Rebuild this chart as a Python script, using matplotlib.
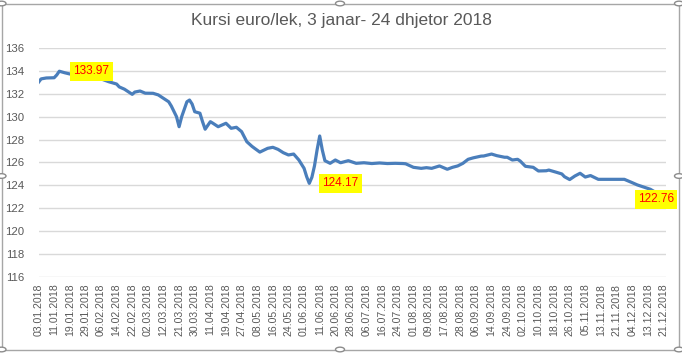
import matplotlib.pyplot as plt
from matplotlib.patches import Rectangle, Circle

title = 'Kursi euro/lek, 3 janar- 24 dhjetor 2018'

tick_dates = [
    '03.01.2018', '11.01.2018', '19.01.2018', '29.01.2018', '06.02.2018',
    '14.02.2018', '22.02.2018', '02.03.2018', '12.03.2018', '21.03.2018',
    '30.03.2018', '11.04.2018', '19.04.2018', '27.04.2018', '08.05.2018',
    '16.05.2018', '24.05.2018', '01.06.2018', '11.06.2018', '20.06.2018',
    '28.06.2018', '06.07.2018', '16.07.2018', '24.07.2018', '01.08.2018',
    '09.08.2018', '17.08.2018', '28.08.2018', '06.09.2018', '14.09.2018',
    '24.09.2018', '02.10.2018', '10.10.2018', '18.10.2018', '26.10.2018',
    '05.11.2018', '13.11.2018', '21.11.2018', '04.12.2018', '13.12.2018',
    '21.12.2018',
]
tick_step = 6  # one label every 6 trading days

# trading-day number (0 = 03.01.2018) and the euro/lek rate on that day
day_index = [
    0, 1, 3, 6, 7, 8, 10, 12, 15, 18, 21, 24, 27, 30, 31, 33, 36, 37, 39, 41,
    44, 46, 48, 50, 51, 53, 54, 55, 57, 58, 59, 60, 62, 63, 64, 66, 67, 69,
    72, 74, 76, 78, 80, 82, 83, 85, 88, 90, 92, 94, 96, 98, 100, 102, 103,
    104, 105, 106, 107, 108, 109, 110, 112, 114, 116, 119, 122, 125, 128,
    131, 134, 137, 140, 141, 144, 147, 149, 151, 154, 157, 159, 161, 163,
    165, 167, 170, 171, 174, 176, 179, 180, 182, 184, 185, 187, 190, 192,
    195, 196, 199, 201, 202, 204, 206, 208, 210, 212, 215, 220, 225, 228,
    230, 235, 238, 241,
]
rate = [
    133.0, 133.3, 133.38, 133.4, 133.64, 133.97, 133.84, 133.73, 133.65,
    133.55, 133.45, 133.3, 133.05, 132.85, 132.6, 132.4, 131.95, 132.15,
    132.24, 132.05, 132.04, 131.9, 131.6, 131.3, 130.93, 130.0, 129.12,
    130.0, 131.3, 131.45, 131.1, 130.43, 130.3, 129.56, 128.9, 129.56,
    129.42, 129.12, 129.42, 128.98, 129.07, 128.69, 127.81, 127.4, 127.23,
    126.9, 127.23, 127.32, 127.14, 126.85, 126.65, 126.73, 126.21, 125.48,
    124.75, 124.17, 124.7, 125.7, 127.1, 128.31, 127.08, 126.15, 125.92,
    126.21, 125.97, 126.15, 125.92, 125.97, 125.9, 125.95, 125.9, 125.92,
    125.9, 125.88, 125.57, 125.48, 125.54, 125.48, 125.69, 125.4, 125.57,
    125.69, 125.92, 126.27, 126.4, 126.55, 126.56, 126.73, 126.59, 126.45,
    126.45, 126.21, 126.27, 126.12, 125.66, 125.57, 125.25, 125.27, 125.33,
    125.13, 124.99, 124.75, 124.5, 124.81, 125.05, 124.72, 124.85, 124.52,
    124.52, 124.52, 124.23, 124.03, 123.65, 123.25, 122.76,
]

# values that carry a data label in the chart
labelled = [133.97, 124.17, 122.76]

gray = '#595959'
font = ['Liberation Sans', 'DejaVu Sans']

fig = plt.figure(figsize=(6.82, 3.53), dpi=100)
W, H = 682, 353

# chart border with selection handles
fig.patches.append(Rectangle((1.5 / W, 3.5 / H), 677.5 / W, 346 / H,
                             transform=fig.transFigure, fill=False,
                             ec='#a6a6a6', lw=1.0))
for hx, hy in [(1.5, 3.5), (340, 3.5), (679, 3.5), (1.5, 176), (679, 176),
               (1.5, 349.5), (340, 349.5), (679, 349.5)]:
    fig.patches.append(Circle((hx / W, 1 - hy / H), 4.5 / W,
                              transform=fig.transFigure, fc='white',
                              ec='#8c8c8c', lw=1.0, zorder=5))

ax = fig.add_axes([38.5 / W, 1 - 276.8 / H, 627.5 / W, (276.8 - 48) / H])
ax.plot(day_index, rate, color='#4a7ebb', lw=2.3, solid_joinstyle='round',
        zorder=3)

ax.set_xlim(0, day_index[-1])
ax.set_ylim(116, 136)
ax.set_yticks(range(116, 137, 2))
ax.set_xticks(range(0, tick_step * len(tick_dates), tick_step))
ax.set_xticklabels(tick_dates, rotation=90, fontsize=7.6, color=gray,
                   family=font)
for lbl in ax.get_yticklabels():
    lbl.set_fontsize(8.2)
    lbl.set_color(gray)
    lbl.set_family(font)
ax.tick_params(axis='both', length=0, pad=5)
ax.tick_params(axis='y', pad=10)
ax.grid(axis='y', color='#d9d9d9', lw=1.0)
ax.set_axisbelow(True)
for s in ax.spines.values():
    s.set_visible(False)
ax.set_facecolor('none')

fig.text(0.5, 1 - 20 / H, title, ha='center', va='center', fontsize=12.5,
         color=gray, family=font)

# data labels: yellow boxes with red text
box = dict(boxstyle='square,pad=0.28', fc='yellow', ec='none')
offsets = [(14, 'left'), (13, 'left'), (8, 'right')]
for v, (dx, ha) in zip(labelled, offsets):
    i = rate.index(v)
    ax.annotate(f'{v:.2f}', (day_index[i], v),
                xytext=(dx, 0), textcoords='offset pixels', ha=ha,
                va='center', fontsize=8.5, color='red', family=font,
                bbox=box, zorder=6, annotation_clip=False)

fig.savefig('out.png', dpi=100)
